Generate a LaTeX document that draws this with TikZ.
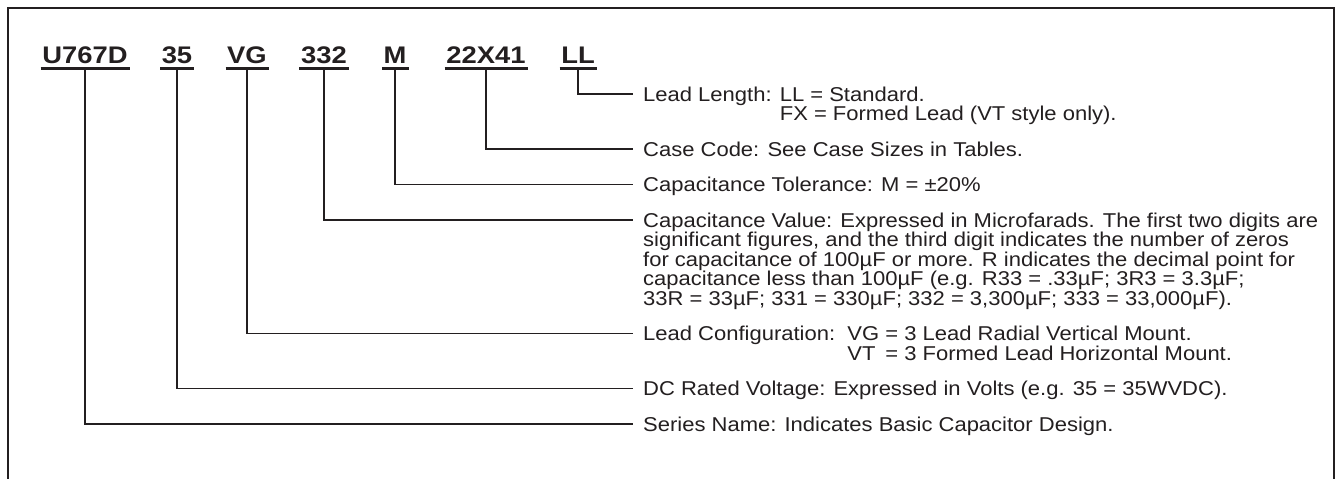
\documentclass[tikz,border=0pt]{standalone}
\usepackage{fontspec}
\setmainfont[FakeStretch=1.1]{Liberation Sans}
\newfontfamily\codefam[FakeStretch=1.14]{Liberation Sans}
\definecolor{ink}{HTML}{231F20}
\newcommand{\descfont}{\fontsize{20}{20}\selectfont}
\newcommand{\codefont}{\codefam\bfseries\fontsize{24}{24}\selectfont}
\tikzset{
  code/.style={font=\codefont, text=ink, inner sep=0pt, anchor=base},
  desc/.style={font=\descfont, text=ink, inner sep=0pt, anchor=base west},
  conn/.style={line width=1.1pt, draw=ink},
  uline/.style={line width=2.3pt, draw=ink},
  frame/.style={line width=2.7pt, draw=ink}
}
\begin{document}
\begin{tikzpicture}[x=1pt,y=-1pt]
\useasboundingbox (0,0) rectangle (1339,479);
\fill[white] (0,0) rectangle (1339,479);
\draw[frame] (8,495) -- (8,8) -- (1334,8) -- (1334,495);

% part-number codes
\node[code] (cU) at (85,63) {U767D};
\node[code] (cV) at (177,63) {35};
\node[code] (cC) at (247,63) {VG};
\node[code] (cCap) at (324,63) {332};
\node[code] (cT) at (395,63) {M};
\node[code] (cS) at (486,63) {22X41};
\node[code] (cL) at (578,63) {LL};
\foreach \n in {cU,cV,cC,cCap,cT,cS,cL}{
  \draw[uline] ([xshift=-1.5pt,yshift=-5.5pt]\n.base west) -- ([xshift=2pt,yshift=-5.5pt]\n.base east);
}

% connector end points
\coordinate (eL) at (633,94);
\coordinate (eS) at (633,149);
\coordinate (eT) at (633,184.5);
\coordinate (eCap) at (633,220);
\coordinate (eC) at (633,333.5);
\coordinate (eV) at (633,388.5);
\coordinate (eU) at (633,424);

\foreach \n/\e in {cL/eL,cS/eS,cT/eT,cCap/eCap,cC/eC,cV/eV,cU/eU}{
  \draw[conn] ([yshift=-5.5pt]\n.base) |- (\e);
}

% descriptions
\node[desc] (tL1) at (643,101.2) {Lead Length: LL = Standard.};
\node[desc] (tL2) at (643,120.7) {\phantom{Lead Length: }FX = Formed Lead (VT style only).};
\node[desc] (tS) at (643,156.2) {Case Code: See Case Sizes in Tables.};
\node[desc] (tT) at (643,191.7) {Capacitance Tolerance: M = ±20\%};
\node[desc] (tCap1) at (643,227.2) {Capacitance Value: Expressed in Microfarads. The first two digits are};
\node[desc] (tCap2) at (643,246.7) {significant figures, and the third digit indicates the number of zeros};
\node[desc] (tCap3) at (643,266.2) {for capacitance of 100µF or more. R indicates the decimal point for};
\node[desc] (tCap4) at (643,285.7) {capacitance less than 100µF (e.g. R33 = .33µF; 3R3 = 3.3µF;};
\node[desc] (tCap5) at (643,305.2) {33R = 33µF; 331 = 330µF; 332 = 3,300µF; 333 = 33,000µF).};
\node[desc] (tC1) at (643,340.7) {Lead Configuration:\ \ VG = 3 Lead Radial Vertical Mount.};
\node[desc] (tC2) at (643,360.2) {\phantom{Lead Configuration:\ \ }\rlap{VT}\phantom{VG} = 3 Formed Lead Horizontal Mount.};
\node[desc] (tV) at (643,395.7) {DC Rated Voltage: Expressed in Volts (e.g. 35 = 35WVDC).};
\node[desc] (tU) at (643,431.2) {Series Name: Indicates Basic Capacitor Design.};
\end{tikzpicture}
\end{document}
